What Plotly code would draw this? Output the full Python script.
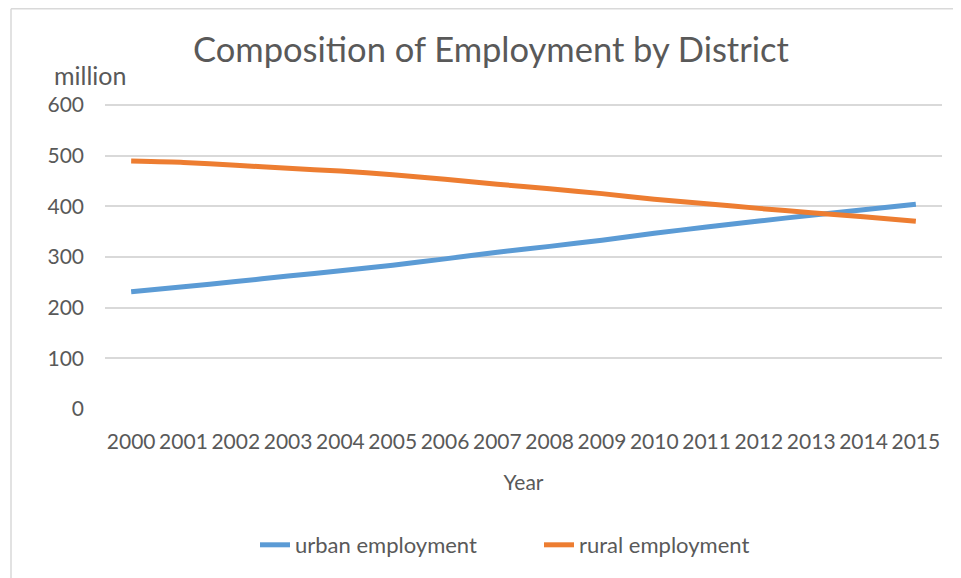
import plotly.graph_objects as go

years = [str(y) for y in range(2000, 2016)]
urban = [231.5, 241.2, 251.6, 262.3, 272.9, 283.9, 296.3, 309.5, 321.0, 333.2, 346.9, 359.1, 371.0, 382.4, 393.1, 404.1]
rural = [489.3, 486.7, 481.2, 475.1, 469.7, 462.6, 453.5, 443.7, 434.6, 425.1, 414.2, 405.1, 396.0, 387.4, 379.4, 370.4]

FONT = "Lato"
GREY = "#595959"
OFF = 8  # page body margin
W, H = 961 - OFF, 578 - OFF
L, R, T, B = 105 - OFF, 19, 103 - OFF, 169
pw, ph = W - L - R, H - T - B

def px(x):  # screenshot x -> paper
    return (x - OFF - L) / pw

def py(y):  # screenshot y -> paper
    return (H - B - (y - OFF)) / ph

fig = go.Figure()
fig.add_trace(go.Scatter(x=years, y=urban, mode="lines", name="urban employment",
                         line=dict(color="#5B9BD5", width=5, shape="spline", smoothing=0.5)))
fig.add_trace(go.Scatter(x=years, y=rural, mode="lines", name="rural employment",
                         line=dict(color="#ED7D31", width=5, shape="spline", smoothing=0.5)))

fig.update_layout(
    template="none",
    width=W, height=H,
    margin=dict(l=L, r=R, t=T, b=B, autoexpand=False),
    paper_bgcolor="white", plot_bgcolor="white",
    font=dict(family=FONT, color=GREY, size=21),
    title=dict(text="Composition of Employment by District", x=(491 - OFF) / W, xanchor="center",
               y=1 - (50 - OFF) / H, yanchor="middle", font=dict(size=34.5, color=GREY, family=FONT)),
    xaxis=dict(type="category", range=[-0.5, 15.5], showgrid=False, showline=False, ticks="",
               zeroline=False, automargin=False, tickangle=0,
               tickfont=dict(size=21, color=GREY), ticklabelstandoff=18,
               title=dict(text="Year", font=dict(size=21, color=GREY), standoff=23)),
    yaxis=dict(range=[0, 604], tickvals=[0, 100, 200, 300, 400, 500, 600], showgrid=True,
               gridcolor="#D9D9D9", gridwidth=1.5, automargin=False,
               zeroline=False, showline=False, ticks="", tickfont=dict(size=21, color=GREY),
               ticklabelstandoff=20),
    legend=dict(orientation="h", x=px(255), xanchor="left",
                y=py(545), yanchor="middle", font=dict(size=22, color=GREY),
                itemwidth=30, entrywidth=239, entrywidthmode="pixels",
                bgcolor="rgba(0,0,0,0)", borderwidth=0),
    showlegend=True,
)

fig.add_annotation(text="million", xref="paper", yref="paper", x=px(90.5), y=py(75),
                   xanchor="center", yanchor="middle", showarrow=False,
                   font=dict(size=25, color=GREY, family=FONT))

# outer chart border (left and top edges visible)
fig.add_shape(type="line", xref="paper", yref="paper", x0=px(11), y0=py(8.8), x1=px(975), y1=py(8.8),
              line=dict(color="#D9D9D9", width=1.5))
fig.add_shape(type="line", xref="paper", yref="paper", x0=px(11), y0=py(8.8), x1=px(11), y1=py(590),
              line=dict(color="#D9D9D9", width=1.5))

fig.write_html("out.html")
